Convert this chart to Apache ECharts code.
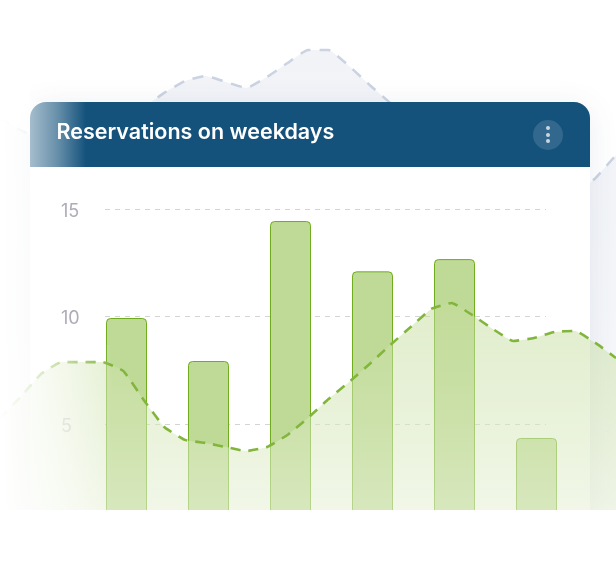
<!DOCTYPE html>
<html>
<head>
<meta charset="utf-8">
<style>
  html, body { margin: 0; padding: 0; background: #fff; }
  #chart { width: 616px; height: 578px; }
</style>
<script src="https://cdn.jsdelivr.net/npm/echarts@6/dist/echarts.min.js"></script>
</head>
<body>
<div id="chart"></div>
<script>
const titleText = 'Reservations on weekdays'
const weekdays = ['Mon', 'Tue', 'Wed', 'Thu', 'Fri', 'Sat']
const reservations = [9.93, 7.93, 14.44, 12.1, 12.67, 4.35]
const yTicks = [5, 10, 15]

// the two soft waves, read every ~20px across the picture
const wavePositions = Array.from({ length: 31 }, (_, i) => i)
const greenWave = [
  5.28, 6.26, 7.33, 7.88, 7.88, 7.88, 7.47, 6.12, 4.86, 4.26, 4.12,
  3.93, 3.74, 3.93, 4.49, 5.28, 6.16, 6.95, 7.79, 8.67, 9.51,
  10.35, 10.63, 10.07, 9.42, 8.86, 9.0, 9.28, 9.33, 8.77, 8.07
]
const greyWave = [
  19.23, 18.67, 18.21, 17.74, 17.98, 18.67, 19.14, 19.74, 20.4, 20.95, 21.19,
  20.91, 20.63, 21.14, 21.79, 22.4, 22.4, 21.65, 20.77, 19.93, 18.91,
  17.98, 17.05, 16.35, 15.65, 15.19, 14.95, 15.19, 15.65, 16.44, 17.51
]

const chart = echarts.init(document.getElementById('chart'), null, { renderer: 'canvas' })

function whiteFade(x, y, width, height, stops, z) {
  return {
    type: 'rect',
    silent: true,
    z,
    shape: { x, y, width, height },
    style: {
      fill: new echarts.graphic.LinearGradient(0, 0, 1, 0,
        stops.map(([offset, alpha]) => ({ offset, color: `rgba(255,255,255,${alpha})` })))
    }
  }
}

chart.setOption({
  animation: false,
  backgroundColor: '#fff',
  grid: [
    { left: 0, width: 616, top: 15.5, height: 516 },
    { left: 85.5, width: 492, top: 209, height: 322.5 },
    { left: 105, width: 441, top: 209, height: 322.5 }
  ],
  xAxis: [
    { gridIndex: 0, type: 'category', boundaryGap: false, data: wavePositions, show: false },
    { gridIndex: 1, type: 'category', data: weekdays, show: false },
    { gridIndex: 2, type: 'category', data: weekdays, show: false }
  ],
  yAxis: [
    { gridIndex: 0, type: 'value', min: 0, max: 24, show: false },
    { gridIndex: 1, type: 'value', min: 0, max: 15, interval: 5, show: false },
    {
      gridIndex: 2,
      type: 'value',
      min: 0,
      max: 15,
      interval: 5,
      z: 6,
      axisLine: { show: false },
      axisTick: { show: false },
      splitLine: { lineStyle: { color: '#d4d4d4', width: 1, type: [5, 5] } },
      axisLabel: {
        margin: 44,
        align: 'left',
        color: '#adadb8',
        fontFamily: 'Inter',
        fontSize: 18,
        verticalAlign: 'top',
        lineHeight: 5,
        formatter: v => (yTicks.includes(v) ? String(v) : '')
      }
    }
  ],
  series: [
    {
      type: 'line',
      xAxisIndex: 0,
      yAxisIndex: 0,
      z: 1,
      data: greyWave,
      smooth: 0.12,
      showSymbol: false,
      lineStyle: { color: '#cbd3e2', width: 2.5, type: [11, 9] },
      areaStyle: {
        origin: 'start',
        color: new echarts.graphic.LinearGradient(0, 0, 0, 1, [
          { offset: 0, color: '#ebeef4' },
          { offset: 0.6, color: '#f1f3f7' },
          { offset: 1, color: '#f9f9fa' }
        ])
      }
    },
    {
      type: 'bar',
      xAxisIndex: 1,
      yAxisIndex: 1,
      z: 7,
      data: reservations,
      barWidth: 41,
      itemStyle: {
        color: '#bfda96',
        borderColor: '#6fac1e',
        borderWidth: 1,
        borderRadius: [4, 4, 0, 0]
      }
    },
    {
      type: 'line',
      xAxisIndex: 0,
      yAxisIndex: 0,
      z: 8,
      data: greenWave,
      smooth: 0.12,
      showSymbol: false,
      lineStyle: { color: '#82b53c', width: 2.6, type: [10, 8] },
      areaStyle: {
        origin: 'start',
        color: new echarts.graphic.LinearGradient(0, 0, 0, 1, [
          { offset: 0, color: 'rgba(196,220,155,0.72)' },
          { offset: 0.5, color: 'rgba(214,231,186,0.76)' },
          { offset: 0.9, color: 'rgba(232,241,216,0.84)' },
          { offset: 1, color: 'rgba(234,242,220,0.84)' }
        ])
      }
    }
  ],
  graphic: [
    // card
    {
      type: 'rect',
      silent: true,
      z: 3,
      shape: { x: 30, y: 102, width: 560, height: 440, r: 16 },
      style: { fill: '#fff', shadowBlur: 30, shadowColor: 'rgba(60,80,130,0.1)', shadowOffsetY: 4 }
    },
    // header
    {
      type: 'rect',
      silent: true,
      z: 12,
      shape: { x: 30, y: 102, width: 560, height: 65, r: [16, 16, 0, 0] },
      style: { fill: '#14527c' }
    },
    whiteFade(30, 102, 56, 65, [[0, 0.62], [0.5, 0.35], [1, 0]], 13),
    {
      type: 'text',
      silent: true,
      z: 14,
      x: 56.5,
      y: 133,
      style: {
        text: titleText,
        fill: '#fff',
        font: '600 21.5px Inter',
        textVerticalAlign: 'middle'
      }
    },
    {
      type: 'circle',
      silent: true,
      z: 14,
      shape: { cx: 548, cy: 135, r: 15 },
      style: { fill: 'rgba(255,255,255,0.13)' }
    },
    ...[128, 135, 141].map(cy => ({
      type: 'circle',
      silent: true,
      z: 15,
      shape: { cx: 548, cy, r: 2 },
      style: { fill: '#c9d6e2' }
    })),
    // left side fades out into the page
    whiteFade(0, 0, 30, 345, [[0, 1], [1, 0.8]], 10),
    whiteFade(0, 345, 112, 165, [[0, 1], [0.27, 0.82], [0.6, 0.5], [1, 0]], 10),
    // leftover grid line of the card behind
    {
      type: 'line',
      silent: true,
      z: 9,
      shape: { x1: 590, y1: 431, x2: 616, y2: 431 },
      style: { stroke: '#e3eadb', lineWidth: 1, lineDash: [4, 11] }
    },
    // everything stops at the same bottom edge
    {
      type: 'rect',
      silent: true,
      z: 20,
      shape: { x: 0, y: 510, width: 616, height: 68 },
      style: { fill: '#fff' }
    }
  ]
})
</script>
</body>
</html>
